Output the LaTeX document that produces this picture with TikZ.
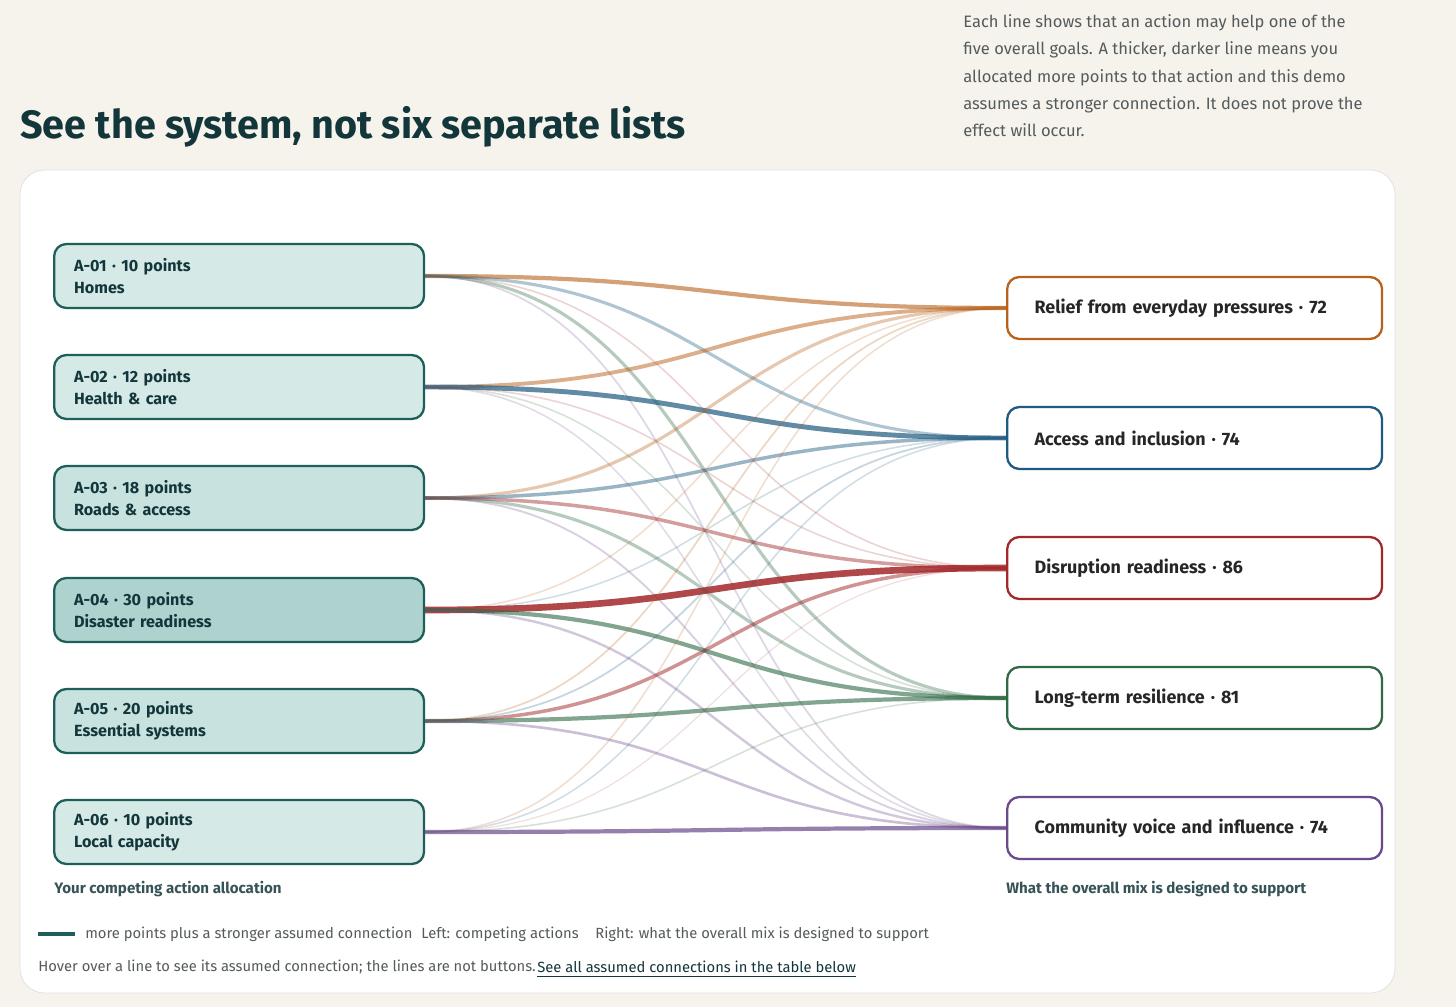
\documentclass[tikz,border=0pt]{standalone}
\usepackage{fontspec}
\setmainfont{Fira Sans}
\usetikzlibrary{positioning}
\definecolor{pagebg}{HTML}{F5F3EC}
\definecolor{ink}{HTML}{12363A}
\definecolor{greytext}{HTML}{555B5C}
\definecolor{teal}{HTML}{1F5F5A}
\definecolor{fillA}{HTML}{D5E9E7}
\definecolor{fillB}{HTML}{C8E2DF}
\definecolor{fillC}{HTML}{AED3CF}
\definecolor{goal1}{HTML}{B8611A}
\definecolor{goal2}{HTML}{1F5A80}
\definecolor{goal3}{HTML}{A3282A}
\definecolor{goal4}{HTML}{2F6A45}
\definecolor{goal5}{HTML}{6A4A8A}
\tikzset{
  action/.style={draw=teal, line width=1.3pt, rounded corners=7pt, minimum width=7.16cm,
    minimum height=1.28cm, anchor=west, text width=6.6cm, align=left, inner xsep=0.4cm,
    font=\fontsize{9.2}{12.5}\selectfont\bfseries, text=ink},
  goal/.style={draw=#1, line width=1.3pt, rounded corners=7pt, fill=white, minimum width=7.06cm,
    minimum height=1.24cm, anchor=west, text width=6.4cm, align=left, inner xsep=0.55cm,
    font=\fontsize{10.2}{12}\selectfont\bfseries, text=black!85},
  note/.style={anchor=west, font=\fontsize{8.4}{10}\selectfont, text=greytext, inner sep=0pt},
  link/.style={line cap=butt}
}
\begin{document}
\begin{tikzpicture}[x=0.02cm,y=-0.02cm]
  \useasboundingbox[fill=pagebg] (0,0) rectangle (1456,1007);
  % card
  \draw[black!12, fill=white, rounded corners=14pt] (20,170) rectangle (1395,993);
  % heading
  \node[anchor=west, inner sep=0pt, font=\fontsize{22.5}{26}\selectfont\bfseries, text=ink] (title) at (20,127) {See the system, not six separate lists};
  \node[anchor=north west, inner sep=0pt, align=left, font=\fontsize{9.4}{15.6}\selectfont, text=greytext] (intro) at (963,14)
    {Each line shows that an action may help one of the\\five overall goals. A thicker, darker line means you\\allocated more points to that action and this demo\\assumes a stronger connection. It does not prove the\\effect will occur.};
  % actions
  \node[action, fill=fillA] (l1) at (53,276) {A-01 · 10 points\\Homes};
  \node[action, fill=fillA] (l2) at (53,387) {A-02 · 12 points\\Health \& care};
  \node[action, fill=fillB] (l3) at (53,498) {A-03 · 18 points\\Roads \& access};
  \node[action, fill=fillC] (l4) at (53,610) {A-04 · 30 points\\Disaster readiness};
  \node[action, fill=fillB] (l5) at (53,721) {A-05 · 20 points\\Essential systems};
  \node[action, fill=fillA] (l6) at (53,832) {A-06 · 10 points\\Local capacity};
  % goals
  \node[goal=goal1] (r1) at (1006,308) {Relief from everyday pressures · 72};
  \node[goal=goal2] (r2) at (1006,438) {Access and inclusion · 74};
  \node[goal=goal3] (r3) at (1006,568) {Disruption readiness · 86};
  \node[goal=goal4] (r4) at (1006,698) {Long-term resilience · 81};
  \node[goal=goal5] (r5) at (1006,828) {Community voice and influence · 74};
  % connections: action/goal/width/opacity
  \foreach \s/\t/\w/\o in {
      1/1/2.4/.6, 1/2/1.8/.35, 1/3/0.9/.2, 1/4/1.8/.35, 1/5/1.0/.22,
      2/1/2.2/.5, 2/2/2.8/.7, 2/3/0.9/.2, 2/4/0.9/.2, 2/5/0.9/.2,
      3/1/1.8/.35, 3/2/2.0/.45, 3/3/2.0/.45, 3/4/1.8/.35, 3/5/1.1/.25,
      4/1/0.9/.2, 4/2/0.9/.2, 4/3/3.8/.85, 4/4/2.4/.6, 4/5/1.4/.3,
      5/1/1.0/.25, 5/2/1.0/.25, 5/3/2.0/.5, 5/4/2.4/.6, 5/5/1.5/.35,
      6/1/0.9/.2, 6/2/0.9/.2, 6/3/0.7/.15, 6/4/0.9/.2, 6/5/2.4/.7}
    \draw[link, goal\t, line width=\w pt, draw opacity=\o]
      (l\s.east) .. controls +(300,0) and +(-300,0) .. (r\t.west);
  % captions
  \node[note, font=\fontsize{8.6}{10}\selectfont\bfseries, text=ink!85] (capL) at (54,889) {Your competing action allocation};
  \node[note, font=\fontsize{8.6}{10}\selectfont\bfseries, text=ink!85] (capR) at (1006,889) {What the overall mix is designed to support};
  % legend
  \coordinate (keyA) at (38,934);
  \coordinate (keyB) at (75,934);
  \draw[teal, line width=2.2pt] (keyA) -- (keyB);
  \node[note] (key) at (85,934) {more points plus a stronger assumed connection};
  \node[note] (leftnote) at (421,934) {Left: competing actions};
  \node[note] (rightnote) at (595,934) {Right: what the overall mix is designed to support};
  \node[note] (hover) at (38,967) {Hover over a line to see its assumed connection; the lines are not buttons.};
  \node[note, text=ink] (tablelink) at (537,967) {See all assumed connections in the table below};
  \draw[ink, line width=0.6pt] ([yshift=-2pt]tablelink.south west) -- ([yshift=-2pt]tablelink.south east);
\end{tikzpicture}
\end{document}
